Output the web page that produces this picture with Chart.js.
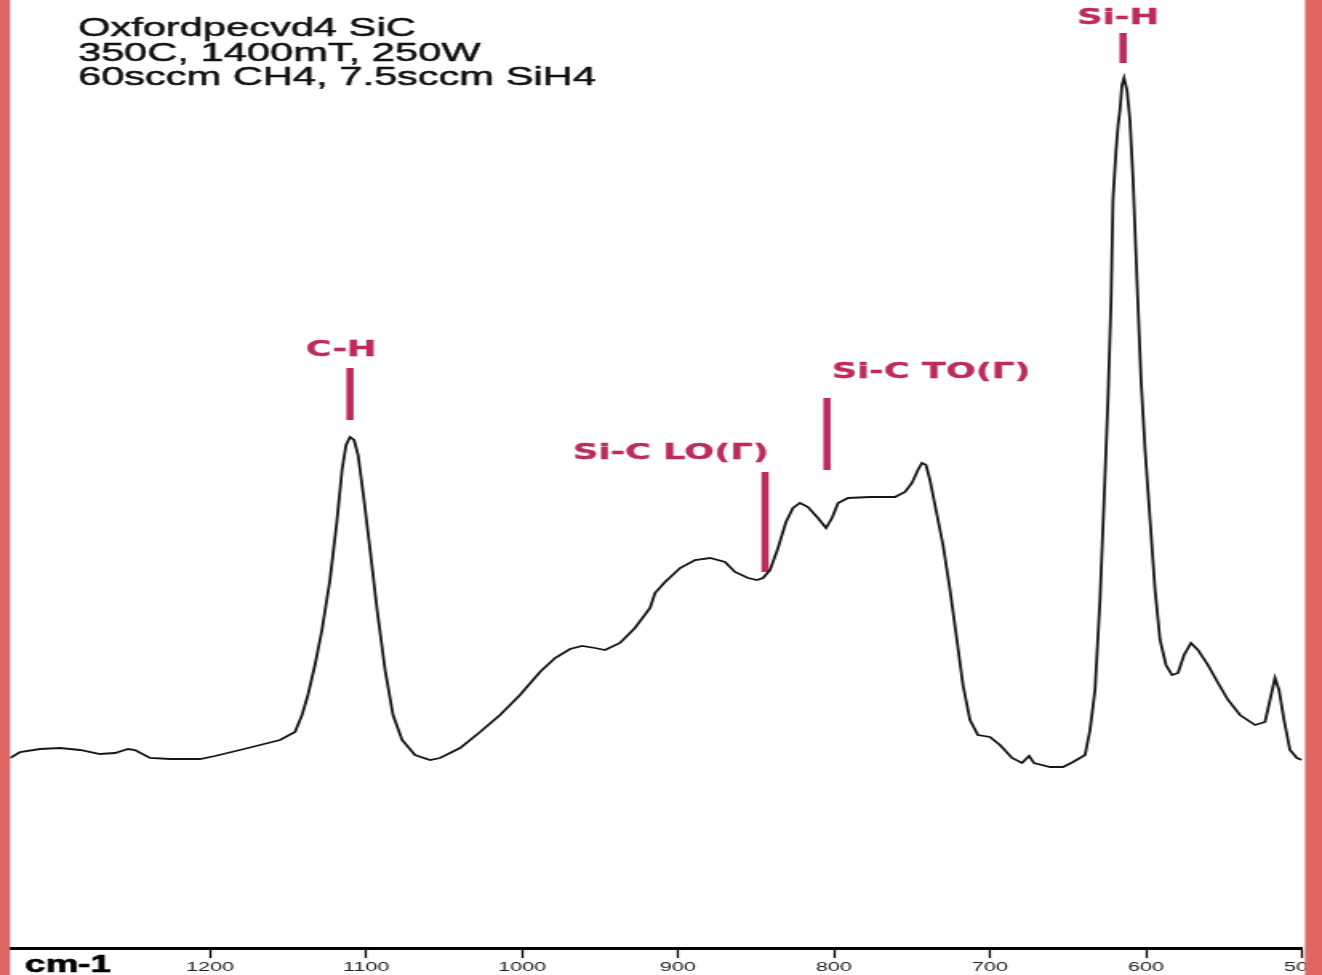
<!DOCTYPE html>
<html>
<head>
<meta charset="utf-8">
<title>Oxfordpecvd4 SiC – FTIR</title>
<script src="https://cdn.jsdelivr.net/npm/chart.js@4.4.1/dist/chart.umd.min.js"></script>
<style>
  html, body { margin: 0; padding: 0; background: #fff; overflow: hidden; }
  /* the plot is laid out on a narrow canvas and widened horizontally */
  #wrap { width: 826px; height: 975px; transform: scaleX(1.60048); transform-origin: 0 0; }
  canvas { display: block; }
</style>
</head>
<body>
<div id="wrap"><canvas id="ftir" width="826" height="975"></canvas></div>
<script>
// ---- spectrum (wavenumber in cm-1, absorbance in a.u.) ----
const wavenumbers = [
  1328.2, 1321.8, 1309.0, 1296.2, 1283.3, 1270.5, 1260.9, 1252.6, 1248.1, 1238.5,
  1225.6, 1206.4, 1196.8, 1180.8, 1167.9, 1155.1, 1145.5, 1141.0, 1137.2, 1132.7,
  1128.2, 1123.1, 1118.6, 1115.4, 1112.8, 1110.3, 1107.7, 1105.1, 1101.3, 1097.4,
  1092.9, 1087.8, 1082.7, 1076.9, 1068.6, 1059.0, 1052.6, 1039.7, 1026.9, 1014.1,
  1001.3, 988.5, 978.8, 969.2, 961.5, 953.2, 946.8, 937.2, 927.6, 917.9,
  914.7, 908.3, 898.7, 889.1, 879.5, 869.9, 863.5, 855.1, 849.4, 845.5,
  841.0, 835.9, 830.8, 826.3, 821.8, 816.7, 810.3, 805.1, 801.3, 797.4,
  791.0, 776.9, 760.9, 754.5, 750.0, 746.2, 743.6, 741.0, 738.5, 734.6,
  730.1, 725.6, 721.2, 717.3, 712.8, 707.7, 700.0, 693.6, 685.9, 679.5,
  675.0, 671.8, 661.5, 653.2, 646.8, 639.1, 635.9, 632.7, 629.5, 626.9,
  624.4, 622.4, 621.2, 619.2, 617.9, 616.7, 615.4, 614.1, 612.2, 610.3,
  608.3, 605.8, 603.2, 600.6, 597.4, 594.2, 591.0, 587.2, 583.3, 579.5,
  575.6, 571.2, 566.7, 560.3, 553.8, 547.4, 539.7, 530.1, 523.7, 520.5,
  517.3, 514.7, 511.5, 507.7, 503.2, 500.0
];
const absorbance = [
  0.190, 0.196, 0.199, 0.200, 0.198, 0.194, 0.195, 0.199, 0.198, 0.190,
  0.189, 0.189, 0.192, 0.198, 0.203, 0.208, 0.216, 0.233, 0.253, 0.283,
  0.318, 0.368, 0.428, 0.478, 0.503, 0.511, 0.508, 0.493, 0.448, 0.398,
  0.338, 0.278, 0.233, 0.208, 0.193, 0.188, 0.190, 0.200, 0.216, 0.233,
  0.253, 0.276, 0.290, 0.299, 0.302, 0.300, 0.298, 0.305, 0.320, 0.340,
  0.355, 0.366, 0.380, 0.388, 0.390, 0.386, 0.376, 0.370, 0.368, 0.370,
  0.378, 0.400, 0.426, 0.440, 0.445, 0.441, 0.430, 0.420, 0.430, 0.445,
  0.450, 0.451, 0.451, 0.456, 0.465, 0.478, 0.485, 0.483, 0.468, 0.438,
  0.403, 0.358, 0.308, 0.263, 0.228, 0.213, 0.211, 0.203, 0.190, 0.185,
  0.192, 0.185, 0.181, 0.181, 0.186, 0.193, 0.218, 0.258, 0.348, 0.448,
  0.548, 0.648, 0.748, 0.798, 0.823, 0.838, 0.863, 0.870, 0.858, 0.828,
  0.768, 0.668, 0.568, 0.498, 0.428, 0.358, 0.308, 0.283, 0.273, 0.275,
  0.293, 0.305, 0.298, 0.283, 0.265, 0.248, 0.233, 0.223, 0.226, 0.248,
  0.270, 0.258, 0.228, 0.198, 0.190, 0.188
];

// ---- axis ----
const tickValues = [1200, 1100, 1000, 900, 800, 700, 600, 500];
const axisUnit = 'cm-1';

// ---- sample description ----
const headerLines = ['Oxfordpecvd4 SiC', '350C, 1400mT, 250W', '60sccm CH4, 7.5sccm SiH4'];

// ---- band assignments ----
const bandNames     = ['C-H',  'Si-C LO(Γ)', 'Si-C TO(Γ)', 'Si-H'];
const bandCenters   = [1110.3, 844.2,        804.5,        614.7];   // cm-1
const bandBarLow    = [0.528,  0.376,        0.478,        0.885];
const bandBarHigh   = [0.580,  0.476,        0.550,        0.915];
const bandLabelAt   = [1116.0, 904.5,        737.8,        617.9];   // cm-1, label centre
const bandLabelLvl  = [0.598,  0.495,        0.576,        0.930];

const BAND_COLOR = '#bd2b5e';
const FRAME_COLOR = '#e06666';

const spectrum = wavenumbers.map((w, i) => ({ x: w, y: absorbance[i] }));
const bandBars = bandNames.map((name, i) => ({
  type: 'line',
  label: name,
  data: [{ x: bandCenters[i], y: bandBarLow[i] }, { x: bandCenters[i], y: bandBarHigh[i] }],
  borderColor: BAND_COLOR,
  borderWidth: 4.5,
  borderCapStyle: 'butt',
  pointRadius: 0,
  order: 2
}));

// filled text with a hairline outline so the glyphs read a little heavier
function heavyText(ctx, text, x, y, weight) {
  ctx.lineWidth = weight;
  ctx.strokeStyle = ctx.fillStyle;
  ctx.lineJoin = 'round';
  ctx.strokeText(text, x, y);
  ctx.fillText(text, x, y);
}

const decorations = {
  id: 'decorations',
  beforeDraw(chart) {
    const ctx = chart.ctx;
    ctx.save();
    ctx.fillStyle = '#fff';
    ctx.fillRect(0, 0, chart.width, chart.height);
    ctx.restore();
  },
  afterDatasetsDraw(chart) {
    const ctx = chart.ctx;
    const xs = chart.scales.x, ys = chart.scales.y;
    ctx.save();
    // sample description
    ctx.fillStyle = '#111';
    ctx.font = '26px "Liberation Sans", Arial, sans-serif';
    ctx.textAlign = 'left';
    ctx.textBaseline = 'alphabetic';
    headerLines.forEach((line, i) => heavyText(ctx, line, 48.7, 36 + i * 24.5, 0.5));
    // band labels
    ctx.fillStyle = BAND_COLOR;
    ctx.font = 'bold 22px "DejaVu Sans", sans-serif';
    ctx.textAlign = 'center';
    ctx.textBaseline = 'middle';
    bandNames.forEach((name, i) => {
      heavyText(ctx, name, xs.getPixelForValue(bandLabelAt[i]), ys.getPixelForValue(bandLabelLvl[i]), 0.35);
    });
    ctx.restore();
  },
  afterDraw(chart) {
    const ctx = chart.ctx;
    ctx.save();
    // axis unit
    ctx.fillStyle = '#000';
    ctx.font = 'bold 23px "Liberation Sans", Arial, sans-serif';
    ctx.textAlign = 'left';
    ctx.textBaseline = 'alphabetic';
    heavyText(ctx, axisUnit, 15.6, 972, 0.6);
    // side frame
    ctx.fillStyle = FRAME_COLOR;
    ctx.fillRect(0, 0, 6.25, chart.height);
    ctx.fillRect(815.4, 0, chart.width - 815.4, chart.height);
    ctx.restore();
  }
};

new Chart(document.getElementById('ftir'), {
  type: 'line',
  data: {
    datasets: [
      {
        label: 'Absorbance',
        data: spectrum,
        borderColor: '#161616',
        borderWidth: 1.8,
        pointRadius: 0,
        tension: 0,
        fill: false,
        order: 1
      },
      ...bandBars
    ]
  },
  options: {
    responsive: false,
    animation: false,
    devicePixelRatio: 1,
    layout: { padding: { left: 6.25, right: 12.5, top: 0, bottom: 0 } },
    plugins: { legend: { display: false }, tooltip: { enabled: false } },
    scales: {
      x: {
        type: 'linear',
        reverse: true,
        min: 500,
        max: 1328.2,
        afterBuildTicks: (s) => { s.ticks = tickValues.map(v => ({ value: v })); },
        afterFit: (s) => { s.height = 27; s.paddingLeft = 0; s.paddingRight = 0; },
        grid: {
          display: true,
          drawOnChartArea: false,
          drawTicks: true,
          tickLength: 10,
          tickColor: '#000',
          tickWidth: 1.3
        },
        border: { display: true, color: '#000', width: 3 },
        ticks: {
          autoSkip: false,
          maxRotation: 0,
          minRotation: 0,
          padding: 1,
          color: '#222',
          font: { family: '"Liberation Sans", Arial, sans-serif', size: 13.5 },
          callback: (v) => String(v)
        }
      },
      y: { display: false, min: 0, max: 0.948 }
    }
  },
  plugins: [decorations]
});
</script>
</body>
</html>
